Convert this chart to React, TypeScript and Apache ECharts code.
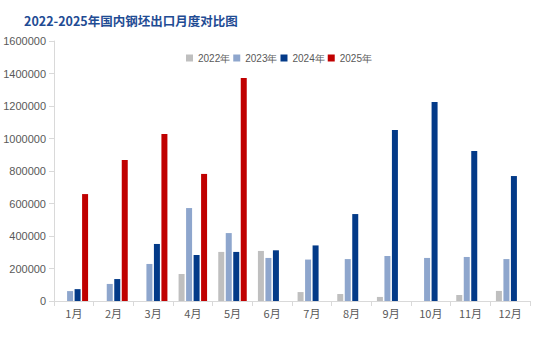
import React, { useEffect, useRef } from "react";
import * as echarts from "echarts";

const months = ["1月", "2月", "3月", "4月", "5月", "6月", "7月", "8月", "9月", "10月", "11月", "12月"];
const yTicks = [0, 200000, 400000, 600000, 800000, 1000000, 1200000, 1400000, 1600000];
const s2022 = [0, 0, 0, 166000, 302000, 308000, 55000, 43000, 25000, 0, 37000, 62000];
const s2023 = [61000, 105000, 228000, 572000, 418000, 265000, 255000, 258000, 277000, 265000, 271000, 258000];
const s2024 = [73000, 135000, 351000, 283000, 302000, 312000, 342000, 535000, 1052000, 1224000, 923000, 769000];
const s2025 = [658000, 868000, 1028000, 782000, 1372000];
const seriesNames = ["2022年", "2023年", "2024年", "2025年"];
const colors = ["#BFBFBF", "#8EA6CD", "#033A88", "#C00000"];

export default function App() {
  const ref = useRef<HTMLDivElement>(null);
  useEffect(() => {
    const chart = echarts.init(ref.current!, undefined, { renderer: "svg" });
    const data = [s2022, s2023, s2024, s2025];
    chart.setOption({
      animation: false,
      backgroundColor: "#ffffff",
      title: {
        text: "2022-2025年国内钢坯出口月度对比图",
        left: 19,
        top: 9,
        textStyle: { color: "#1F4C94", fontSize: 12.5, fontWeight: "bold", fontFamily: "Noto Sans CJK SC" },
      },
      legend: {
        top: 48,
        left: 181,
        itemWidth: 7,
        itemHeight: 7,
        itemGap: 3,
        icon: "rect",
        textStyle: { color: "#595959", fontSize: 10, fontFamily: "Liberation Sans" },
        data: seriesNames,
      },
      grid: { left: 54, right: 11, top: 41, bottom: 56 },
      xAxis: {
        type: "category",
        data: months,
        axisLine: { lineStyle: { color: "#D9D9D9" } },
        axisTick: { show: true, alignWithLabel: false, length: 5, lineStyle: { color: "#D9D9D9" } },
        axisLabel: { color: "#595959", fontSize: 11, margin: 6, fontFamily: "Noto Sans CJK SC" },
      },
      yAxis: {
        type: "value",
        min: yTicks[0],
        max: yTicks[yTicks.length - 1],
        interval: 200000,
        axisLine: { show: true, lineStyle: { color: "#D9D9D9" } },
        axisTick: { show: true, length: 5, lineStyle: { color: "#D9D9D9" } },
        splitLine: { show: false },
        axisLabel: {
          color: "#595959",
          fontSize: 11,
          margin: 8,
          fontFamily: "Liberation Sans",
          formatter: (v: number) => String(v),
        },
      },
      series: seriesNames.map((name, i) => ({
        name,
        type: "bar",
        data: data[i],
        barWidth: 6,
        barGap: "25%",
        itemStyle: { color: colors[i] },
      })),
    });
    return () => chart.dispose();
  }, []);
  return (
    <div
      ref={ref}
      style={{ position: "absolute", left: 0, top: 0, width: 541, height: 357 }}
    />
  );
}
